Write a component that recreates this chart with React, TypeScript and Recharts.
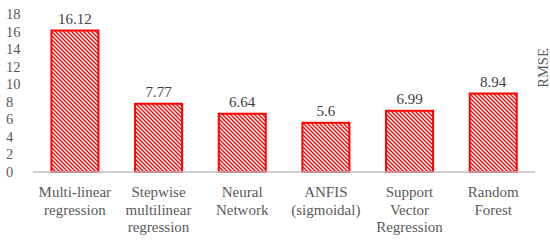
import React from 'react';
import { BarChart, Bar, XAxis, YAxis, LabelList } from 'recharts';

const models = [
    'Multi-linear regression',
    'Stepwise multilinear regression',
    'Neural Network',
    'ANFIS (sigmoidal)',
    'Support Vector Regression',
    'Random Forest',
];
const rmse = [16.12, 7.77, 6.64, 5.6, 6.99, 8.94];
const yTicks = [0, 2, 4, 6, 8, 10, 12, 14, 16, 18];

const data = models.map((name, i) => ({ name, rmse: rmse[i] }));

const font = 'Liberation Serif';
const gray = '#595959';

const CategoryTick = (props: any) => {
    const { x, y, payload } = props;
    const lines = String(payload.value).split(' ');
    return (
        <text x={x} y={y} textAnchor="middle" fill={gray} fontFamily={font} fontSize={15}>
            {lines.map((ln, i) => (
                <tspan key={i} x={x} y={y + 17 + i * 17.5}>
                    {ln}
                </tspan>
            ))}
        </text>
    );
};

const ValueTick = (props: any) => {
    const { y, payload } = props;
    return (
        <text x={6} y={y + 5} textAnchor="start" fill={gray} fontFamily={font} fontSize={14.5}>
            {payload.value}
        </text>
    );
};

export default function App() {
    return (
        <div style={{ position: 'absolute', left: 0, top: 0, width: 550, height: 241, background: '#fff' }}>
            <BarChart
                width={550}
                height={241}
                data={data}
                margin={{ top: 14, right: 0, bottom: 0, left: 0 }}
                barCategoryGap="22%"
            >
                <defs>
                    <pattern id="hatch" patternUnits="userSpaceOnUse" width={4} height={4}>
                        <rect width={4} height={4} fill="#fff" />
                        <path d="M0,0 L4,4 M-1,3 L1,5 M3,-1 L5,1" stroke="#ff0000" strokeWidth={1.3} />
                    </pattern>
                </defs>
                <XAxis
                    dataKey="name"
                    height={69}
                    interval={0}
                    tickLine={false}
                    axisLine={{ stroke: '#bfbfbf', strokeWidth: 1.5 }}
                    tick={<CategoryTick />}
                />
                <YAxis
                    width={33}
                    domain={[0, 18]}
                    ticks={yTicks}
                    interval={0}
                    axisLine={false}
                    tickLine={false}
                    tick={<ValueTick />}
                />
                <YAxis
                    yAxisId="right"
                    orientation="right"
                    width={15}
                    axisLine={false}
                    tickLine={false}
                    tick={false}
                    label={(p: any) => {
                        const cx = p.viewBox.x + 8;
                        const cy = 68;
                        return (
                            <text
                                x={cx}
                                y={cy}
                                transform={`rotate(-90 ${cx} ${cy})`}
                                textAnchor="middle"
                                dominantBaseline="central"
                                fill={gray}
                                fontFamily={font}
                                fontSize={14.5}
                            >
                                RMSE
                            </text>
                        );
                    }}
                />
                <Bar dataKey="rmse" fill="url(#hatch)" stroke="#ff0000" strokeWidth={2} isAnimationActive={false}>
                    <LabelList
                        dataKey="rmse"
                        position="top"
                        offset={7}
                        fill="#404040"
                        fontFamily={font}
                        fontSize={15}
                    />
                </Bar>
            </BarChart>
        </div>
    );
}
